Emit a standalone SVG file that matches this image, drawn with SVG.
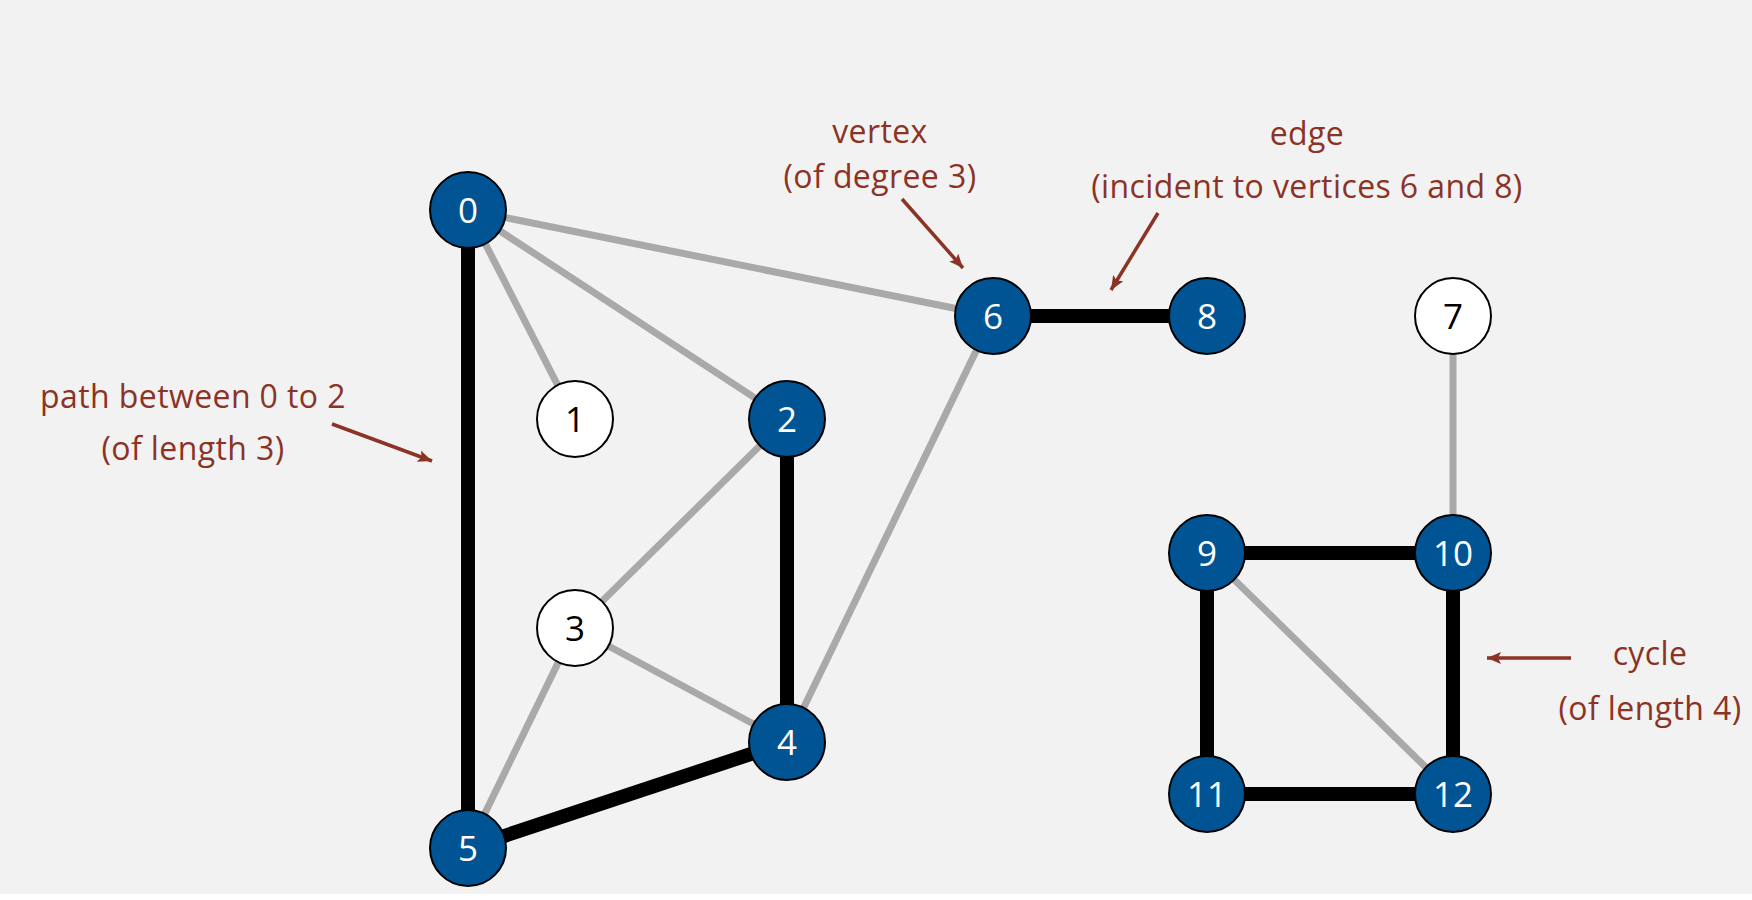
<svg xmlns="http://www.w3.org/2000/svg" width="1752" height="900" viewBox="0 0 1752 900">
<defs>
<marker id="ah" markerUnits="userSpaceOnUse" markerWidth="16" markerHeight="12" refX="14" refY="6" orient="auto">
<path d="M0,0 L14,6 L0,12 L3,6 Z" fill="#8b3324"/>
</marker>
</defs>
<style>
.g{stroke:#a9a9a9;stroke-width:7;}
.b{stroke:#000;stroke-width:14;}
.nb{fill:#005493;stroke:#000;stroke-width:2;}
.nw{fill:#fff;stroke:#000;stroke-width:2;}
.lb{font-family:"Open Sans","DejaVu Sans",sans-serif;font-size:35px;fill:#fff;text-anchor:middle;}
.lw{font-family:"Open Sans","DejaVu Sans",sans-serif;font-size:35px;fill:#000;text-anchor:middle;}
.ann{font-family:"Open Sans","DejaVu Sans",sans-serif;font-size:32px;letter-spacing:0.4px;fill:#8b3324;text-anchor:middle;}
.ar{stroke:#8b3324;stroke-width:3.5;fill:none;marker-end:url(#ah);}
</style>
<rect x="0" y="0" width="1752" height="900" fill="#ffffff"/>
<rect x="0" y="0" width="1752" height="894" fill="#f2f2f2"/>
<g id="connectors">
<line class="g" x1="468" y1="210" x2="575" y2="419"/>
<line class="g" x1="468" y1="210" x2="787" y2="419"/>
<line class="g" x1="468" y1="210" x2="993" y2="316"/>
<line class="g" x1="787" y1="419" x2="575" y2="628"/>
<line class="g" x1="575" y1="628" x2="787" y2="742"/>
<line class="g" x1="575" y1="628" x2="468" y2="848"/>
<line class="g" x1="787" y1="742" x2="993" y2="316"/>
<line class="g" x1="1453" y1="316" x2="1453" y2="553"/>
<line class="g" x1="1207" y1="553" x2="1453" y2="794"/>
<line class="b" x1="468" y1="210" x2="468" y2="848"/>
<line class="b" x1="787" y1="419" x2="787" y2="742"/>
<line class="b" x1="787" y1="742" x2="468" y2="848"/>
<line class="b" x1="993" y1="316" x2="1207" y2="316"/>
<line class="b" x1="1207" y1="553" x2="1453" y2="553"/>
<line class="b" x1="1207" y1="553" x2="1207" y2="794"/>
<line class="b" x1="1453" y1="553" x2="1453" y2="794"/>
<line class="b" x1="1207" y1="794" x2="1453" y2="794"/>
</g>
<g id="node0"><circle class="nb" cx="468" cy="210" r="38"/><text class="lb" x="468" y="223">0</text></g>
<g id="node1"><circle class="nw" cx="575" cy="419" r="38"/><text class="lw" x="575" y="432">1</text></g>
<g id="node2"><circle class="nb" cx="787" cy="419" r="38"/><text class="lb" x="787" y="432">2</text></g>
<g id="node3"><circle class="nw" cx="575" cy="628" r="38"/><text class="lw" x="575" y="641">3</text></g>
<g id="node4"><circle class="nb" cx="787" cy="742" r="38"/><text class="lb" x="787" y="755">4</text></g>
<g id="node5"><circle class="nb" cx="468" cy="848" r="38"/><text class="lb" x="468" y="861">5</text></g>
<g id="node6"><circle class="nb" cx="993" cy="316" r="38"/><text class="lb" x="993" y="329">6</text></g>
<g id="node7"><circle class="nw" cx="1453" cy="316" r="38"/><text class="lw" x="1453" y="329">7</text></g>
<g id="node8"><circle class="nb" cx="1207" cy="316" r="38"/><text class="lb" x="1207" y="329">8</text></g>
<g id="node9"><circle class="nb" cx="1207" cy="553" r="38"/><text class="lb" x="1207" y="566">9</text></g>
<g id="node10"><circle class="nb" cx="1453" cy="553" r="38"/><text class="lb" x="1453" y="566">10</text></g>
<g id="node11"><circle class="nb" cx="1207" cy="794" r="38"/><text class="lb" x="1207" y="807">11</text></g>
<g id="node12"><circle class="nb" cx="1453" cy="794" r="38"/><text class="lb" x="1453" y="807">12</text></g>
<g id="annotations">
<text class="ann" x="193" y="408">path between 0 to 2</text>
<text class="ann" x="193" y="460">(of length 3)</text>
<line class="ar" x1="332" y1="424" x2="432" y2="461"/>
<text class="ann" x="880" y="143">vertex</text>
<text class="ann" x="880" y="188">(of degree 3)</text>
<line class="ar" x1="902" y1="199" x2="963" y2="268"/>
<text class="ann" x="1307" y="145">edge</text>
<text class="ann" x="1307" y="198">(incident to vertices 6 and 8)</text>
<line class="ar" x1="1158" y1="213" x2="1111" y2="290"/>
<text class="ann" x="1650" y="665">cycle</text>
<text class="ann" x="1650" y="720">(of length 4)</text>
<line class="ar" x1="1571" y1="658" x2="1487" y2="658"/>
</g>
</svg>
